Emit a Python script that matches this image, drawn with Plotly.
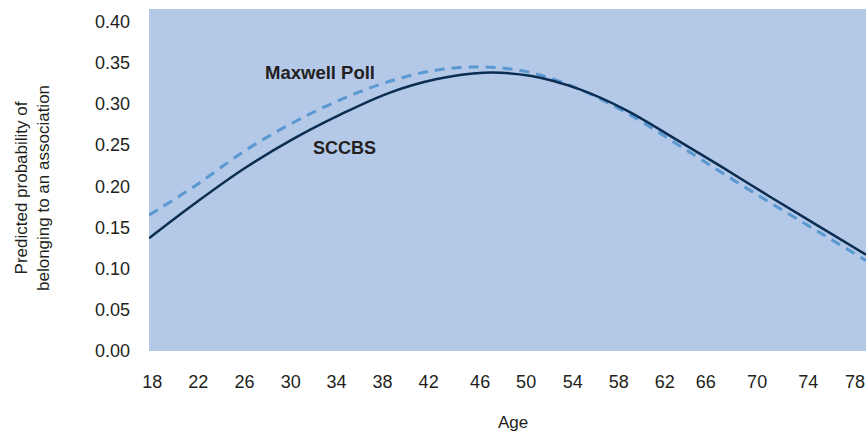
import plotly.graph_objects as go

# Predicted probability of belonging to an association, by age
ages = [18, 22, 26, 30, 34, 38, 42, 46, 50, 54, 58, 62, 66, 70, 74, 78]
sccbs = [0.137, 0.181, 0.222, 0.257, 0.287, 0.313, 0.330, 0.338,
         0.334, 0.318, 0.292, 0.258, 0.223, 0.187, 0.152, 0.117]
maxwell = [0.165, 0.202, 0.243, 0.277, 0.305, 0.327, 0.341, 0.345,
           0.338, 0.318, 0.289, 0.253, 0.216, 0.180, 0.145, 0.110]

x_tick_labels = ["18", "22", "26", "30", "34", "38", "42", "46",
                 "50", "54", "58", "62", "66", "70", "74", "78"]
# labels in the original are placed by hand, slightly off the even grid
x_tick_pos = [18.28, 22.13, 25.99, 29.87, 33.70, 37.55, 41.40, 45.71,
              49.56, 53.47, 57.32, 61.16, 64.59, 68.89, 73.17, 77.08]
y_ticks = [0.0, 0.05, 0.10, 0.15, 0.20, 0.25, 0.30, 0.35, 0.40]

FONT = "Liberation Sans, Arial, sans-serif"
TEXT = "#231f20"

fig = go.Figure()

fig.add_trace(go.Scatter(
    x=ages, y=maxwell, mode="lines", name="Maxwell Poll",
    line=dict(color="#5a98d2", width=3, dash="10px,7px", shape="spline"),
))
fig.add_trace(go.Scatter(
    x=ages, y=sccbs, mode="lines", name="SCCBS",
    line=dict(color="#0b2d52", width=2.5, shape="spline"),
))

# series labels
fig.add_annotation(x=32.33, y=0.338, text="<b>Maxwell Poll</b>", showarrow=False,
                   font=dict(family=FONT, size=18.5, color=TEXT))
fig.add_annotation(x=34.34, y=0.246, text="<b>SCCBS</b>", showarrow=False,
                   font=dict(family=FONT, size=18, color=TEXT))

# axis titles
fig.add_annotation(xref="paper", yref="paper", x=0, y=0.5, xshift=-117, yshift=-8,
                   xanchor="center", yanchor="middle",
                   text="Predicted probability of<br>belonging to an association",
                   textangle=-90, showarrow=False,
                   font=dict(family=FONT, size=17, color=TEXT))
fig.add_annotation(xref="paper", yref="paper", x=0.5, y=0, xshift=5, yshift=-71,
                   xanchor="center", yanchor="middle", text="Age", showarrow=False,
                   font=dict(family=FONT, size=17, color=TEXT))

fig.update_layout(
    width=866, height=433,
    margin=dict(l=149, r=0, t=9, b=82),
    paper_bgcolor="white",
    plot_bgcolor="#b4c8e7",
    showlegend=False,
    font=dict(family=FONT, size=18, color=TEXT),
    xaxis=dict(
        range=[18, 78], showgrid=False, zeroline=False, showline=False,
        tickmode="array", tickvals=x_tick_pos, ticktext=x_tick_labels,
        ticks="", ticklabelstandoff=18,
    ),
    yaxis=dict(
        range=[0, 0.4154], showgrid=False, zeroline=False, showline=False,
        tickmode="array", tickvals=y_ticks, tickformat=".2f",
        ticks="", ticklabelstandoff=18,
    ),
)

# drop the default page margin so the chart sits at the window's corner
fig.write_html("out.html", config={"displayModeBar": False},
               post_script="document.body.style.margin='0';")
